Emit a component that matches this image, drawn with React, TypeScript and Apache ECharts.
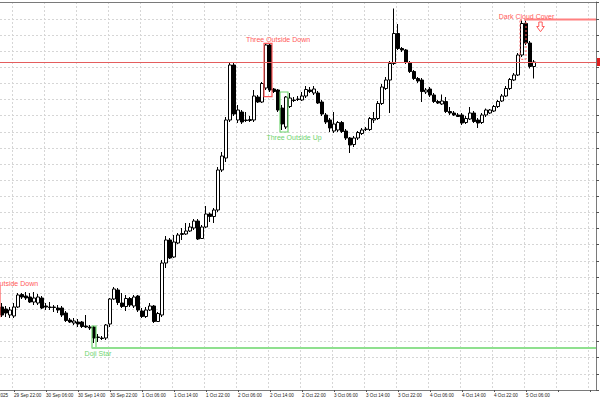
import React, { useEffect, useRef } from "react";
import * as echarts from "echarts";

// ---- time axis (hourly candles) ----
const START_UTC = Date.UTC(2025, 8, 29, 19); // first candle: 29 Sep 19:00
const TOTAL_SLOTS = 149; // candles + empty space on the right
const MONTHS = ["Jan", "Feb", "Mar", "Apr", "May", "Jun", "Jul", "Aug", "Sep", "Oct", "Nov", "Dec"];
const FIRST_TICK_SLOT = 3;
const TICK_STEP = 8;
const tickLabels = [
  "29 Sep 22:00", "30 Sep 06:00", "30 Sep 14:00", "30 Sep 22:00",
  "1 Oct 06:00", "1 Oct 14:00", "1 Oct 22:00", "2 Oct 06:00", "2 Oct 14:00",
  "2 Oct 22:00", "3 Oct 06:00", "3 Oct 14:00", "3 Oct 22:00", "4 Oct 06:00",
  "4 Oct 14:00", "4 Oct 22:00", "5 Oct 06:00",
];
const leadingDateLabel = "29 Sep 2025";

// ---- OHLC (price units) ----
const open = [
  83, 81, 75, 74, 83, 95.5, 94, 93, 88, 87, 92, 84, 83, 83, 82, 82, 77, 70, 67, 68,
  68, 64, 63, 63, 53, 52, 52, 66, 91, 100, 87, 83.5, 91.5, 84, 94, 79, 73.5, 80, 84, 68.5,
  75, 127, 150, 133, 147, 155.5, 156, 159, 162, 169, 151.5, 163, 176, 173.5, 180, 220, 232, 270, 325, 270,
  278, 270, 269.5, 270, 293, 288, 302, 345, 301, 300, 282, 263, 283.5, 290, 290.5, 290, 294, 300, 297, 297,
  288, 275, 270, 259, 260, 267.5, 259, 252, 245.5, 252, 256.5, 260.5, 260.5, 270, 271.5, 286.5, 301.5, 310, 326.5, 356.5,
  341.5, 340, 327, 318.5, 311.5, 310, 298, 301, 295, 288.5, 286, 288.5, 278.5, 277, 275, 275, 267.5, 271, 277, 270,
  267.5, 275, 277, 279, 283.5, 289, 294, 301.5, 310, 315, 335, 366.5, 347, 323.5,
];
const close = [
  75, 77, 80, 83, 95, 93, 92, 88, 92, 93, 82, 83, 82.5, 82.5, 80, 75, 69.5, 68, 69, 66,
  63.5, 63, 62, 52, 52.5, 51.5, 65, 91, 101, 87.5, 83.5, 91.5, 85, 93, 80, 73.5, 80, 84, 68.5, 76.5,
  127, 150, 132, 148, 155, 156.5, 159, 163, 169, 151, 163, 176, 173.5, 180, 220, 234, 270, 325, 276, 280,
  268, 269.5, 270.5, 294, 288, 306.5, 345, 300, 298.5, 280, 266, 293, 292, 289.5, 291, 294, 300.5, 298.5, 301, 287,
  276, 268, 262, 266, 267.5, 258.5, 252, 245, 252, 257.5, 260, 261, 271.5, 271.5, 286.5, 303, 310, 326.5, 356.5, 341.5,
  340, 327.5, 318.5, 311.5, 309, 298.5, 300, 295, 288.5, 287, 289, 278.5, 277, 275, 273.5, 267, 271.5, 277, 268.5, 267,
  275, 280, 280, 283.5, 288.5, 294, 301.5, 310.5, 315, 335, 366.5, 347, 323.5, 328,
];
const low = [
  73, 73, 72, 72, 82, 91, 90, 87, 85, 85, 81, 80, 80, 78, 77, 73, 68, 67, 65, 63,
  62, 62, 60, 47, 48, 50, 50, 63, 90, 85, 82, 79, 83, 82, 78, 72, 72, 79, 67, 68,
  73, 122, 131, 132, 146, 150, 155, 158, 160, 150, 151, 162, 168, 167, 178, 218, 228, 268, 274, 267,
  266, 268, 268, 268, 287, 287, 300, 298, 297, 278, 260, 261, 282, 288, 289, 289, 292, 297, 295, 286,
  274, 266, 258, 257, 258, 257, 250, 237, 243, 250, 255, 259, 259, 267, 270, 285, 300, 277, 325, 340,
  338, 326, 317, 310, 307, 288, 296, 293, 287, 286, 285, 277, 275, 274, 273, 265, 266, 270, 267, 262,
  266, 273, 276, 278, 282, 288, 293, 300, 309, 314, 333, 345, 321.5, 311.5,
];
const high = [
  87, 84, 83, 87, 97, 97, 98, 97, 98, 96, 94, 87, 88, 85, 85, 84, 79, 72, 72, 71,
  69, 75, 65, 64, 56, 54, 66, 92, 103, 102, 97, 95, 93, 95, 95, 82, 83, 87, 85, 78,
  130, 154, 152, 155, 157, 162, 167, 167, 171, 171, 165, 184, 177.5, 182, 223, 238, 273, 327, 327, 285,
  280, 278, 274, 300, 295, 308, 346.5, 346.5, 302, 301, 285, 294, 297, 293, 294, 298, 304, 303, 304, 299,
  290, 277, 272, 278, 269, 269, 261, 253, 254, 259, 262, 263, 273, 278, 289, 306, 313, 329, 381.5, 366,
  343, 341, 329, 320, 313, 312, 302, 303, 297, 290, 295.5, 293, 283, 279, 277, 277, 274, 283, 279, 272,
  277, 281.5, 281, 285, 290, 296, 304, 312, 317, 337, 369.5, 369.5, 349, 330,
];

// ---- y scale ----
const Y_MIN = 0;
const Y_MAX = 388;
const Y_STEP = 16.14;

// ---- pattern annotations (candle index range, price range) ----
type Pattern = {
  name: string; kind: "bear" | "bull"; from: number; to: number;
  top: number; bottom: number; labelPos: "above" | "below";
};
const patterns: Pattern[] = [
  { name: "Three Outside Down", kind: "bear", from: -2, to: -1, top: 103.3, bottom: 73.3, labelPos: "above" },
  { name: "Doji Star", kind: "bull", from: 23, to: 23, top: 64, bottom: 42, labelPos: "below" },
  { name: "Three Outside Down", kind: "bear", from: 66, to: 67, top: 346.7, bottom: 293.3, labelPos: "above" },
  { name: "Three Outside Up", kind: "bull", from: 70, to: 71, top: 298, bottom: 258, labelPos: "below" },
];
const darkCloud = { name: "Dark Cloud Cover", from: 130, to: 131, top: 370, bottom: 330.7, level: 370.5 };
const dojiLevel = { from: 23, value: 42 };

const RED = "#ff5a5a";
const GREEN = "#6fd46f";
const FONT = '"Liberation Sans", Arial, sans-serif';

function slotLabel(i: number): string {
  const d = new Date(START_UTC + i * 3600000);
  const hh = String(d.getUTCHours()).padStart(2, "0");
  return `${d.getUTCDate()} ${MONTHS[d.getUTCMonth()]} ${hh}:00`;
}
const categories = Array.from({ length: TOTAL_SLOTS }, (_, i) => slotLabel(i));
const isTickSlot = (i: number) => i >= FIRST_TICK_SLOT && (i - FIRST_TICK_SLOT) % TICK_STEP === 0;
const isLabelSlot = (i: number) => isTickSlot(i) && (i - FIRST_TICK_SLOT) / TICK_STEP < tickLabels.length;

function buildGraphics(chart: any) {
  const c0 = chart.convertToPixel({ xAxisIndex: 0 }, 0) as number;
  const c1 = chart.convertToPixel({ xAxisIndex: 0 }, 1) as number;
  const pitch = c1 - c0;
  const xAt = (i: number) => c0 + pitch * i;
  const yAt = (v: number) => chart.convertToPixel({ yAxisIndex: 0 }, v) as number;
  const xRight = chart.getWidth() - 4;
  const half = pitch / 2;
  const els: any[] = [];

  // top border
  els.push({ type: "line", shape: { x1: 0, y1: yAt(Y_MAX) + 0.5, x2: xRight, y2: yAt(Y_MAX) + 0.5 }, style: { stroke: "#7a7a7a", lineWidth: 1 }, z: 5 });

  for (const p of patterns) {
    const col = p.kind === "bear" ? RED : GREEN;
    const x1 = xAt(p.from) - half;
    const x2 = xAt(p.to) + half;
    const y1 = yAt(p.top);
    const y2 = yAt(p.bottom);
    els.push({ type: "rect", shape: { x: x1, y: y1, width: x2 - x1, height: y2 - y1 }, style: { stroke: col, fill: "none", lineWidth: 1.2 }, z: 4 });
    const tx = p.name === "Doji Star" ? xAt(p.from) + 4 : xAt(p.from) + 12;
    const ty = p.labelPos === "above" ? y1 - 3.5 : y2 + 5;
    els.push({ type: "text", x: tx, y: ty, style: { text: p.name, fill: col, font: `7px ${FONT}`, align: "center", verticalAlign: "middle" }, z: 6 });
  }

  // doji star support line
  els.push({ type: "line", shape: { x1: xAt(dojiLevel.from) - half, y1: yAt(dojiLevel.value), x2: xRight, y2: yAt(dojiLevel.value) }, style: { stroke: "#8fe08f", lineWidth: 2 }, z: 4 });

  // dark cloud cover
  {
    const x1 = xAt(darkCloud.from) - half;
    const x2 = xAt(darkCloud.from) + half + 2;
    const y1 = yAt(darkCloud.top);
    const y2 = yAt(darkCloud.bottom);
    els.push({ type: "rect", shape: { x: x1, y: y1, width: x2 - x1, height: y2 - y1 }, style: { stroke: RED, fill: "none", lineWidth: 1, lineDash: [2, 2] }, z: 4 });
    const ly = yAt(darkCloud.level);
    els.push({ type: "line", shape: { x1: xAt(darkCloud.to) - 1, y1: ly, x2: xRight, y2: ly }, style: { stroke: "#ff8080", lineWidth: 2 }, z: 4 });
    els.push({ type: "text", x: xAt(darkCloud.to) + 0.5, y: ly - 3.5, style: { text: darkCloud.name, fill: RED, font: `7px ${FONT}`, align: "center", verticalAlign: "middle" }, z: 6 });
    const cx = xAt(darkCloud.to) + 14.5;
    const t = ly + 2.5;
    els.push({
      type: "polygon",
      shape: { points: [[cx - 1.7, t], [cx + 1.7, t], [cx + 1.7, t + 4.5], [cx + 3.8, t + 4.5], [cx, t + 9.7], [cx - 3.8, t + 4.5], [cx - 1.7, t + 4.5]] },
      style: { stroke: RED, fill: "#ffffff", lineWidth: 1 }, z: 6,
    });
  }

  // price tag on the right axis
  const lastClose = close[close.length - 1];
  els.push({ type: "rect", shape: { x: xRight + 1, y: yAt(lastClose) - 4, width: 10, height: 8 }, style: { fill: "#e02020" }, z: 6 });

  // leading date label (cut at left edge)
  els.push({ type: "text", x: xAt(FIRST_TICK_SLOT - TICK_STEP), y: yAt(Y_MIN) + 3, style: { text: leadingDateLabel, fill: "#222", font: `4.6px ${FONT}`, align: "left", verticalAlign: "top" }, z: 6 });

  return els;
}

export default function App() {
  const ref = useRef<HTMLDivElement>(null);
  useEffect(() => {
    if (!ref.current) return;
    const chart = echarts.init(ref.current, null, { renderer: "svg" });
    const candles = open.map((o, i) => [o, close[i], low[i], high[i]]);
    const gridLine = { show: true, lineStyle: { color: "#d6d6d6", type: [2, 2] as any, width: 1 } };
    chart.setOption({
      animation: false,
      backgroundColor: "#ffffff",
      grid: { left: 0, right: 4, top: 2, bottom: 10, outerBoundsMode: "none", containLabel: false },
      xAxis: {
        type: "category",
        data: categories,
        boundaryGap: true,
        axisLine: { show: true, lineStyle: { color: "#7a7a7a", width: 1 } },
        axisTick: { show: true, alignWithLabel: true, length: 2, interval: (i: number) => isTickSlot(i), lineStyle: { color: "#555" } },
        axisLabel: {
          show: true,
          interval: (i: number) => isLabelSlot(i),
          formatter: (_: string, i: number) => tickLabels[(i - FIRST_TICK_SLOT) / TICK_STEP] ?? "",
          align: "left",
          margin: 3,
          fontSize: 4.6,
          fontFamily: FONT,
          color: "#222",
        },
        splitLine: { ...gridLine, interval: (i: number) => isTickSlot(i) },
      },
      yAxis: {
        type: "value",
        position: "right",
        min: Y_MIN,
        max: Y_MAX,
        interval: Y_STEP,
        axisLine: { show: true, onZero: false, lineStyle: { color: "#7a7a7a", width: 1 } },
        axisTick: { show: true, inside: false, length: 3, lineStyle: { color: "#555" } },
        axisLabel: { show: false },
        splitLine: gridLine,
      },
      series: [
        {
          type: "candlestick",
          data: candles,
          barWidth: 3,
          itemStyle: {
            color: "#ffffff",
            color0: "#000000",
            borderColor: "#000000",
            borderColor0: "#000000",
            borderColorDoji: "#000000",
            borderWidth: 1,
          },
          markLine: {
            silent: true,
            symbol: ["none", "none"],
            label: { show: false },
            lineStyle: { color: "#e35d5d", width: 1, type: "solid" },
            data: [{ yAxis: close[close.length - 1] }],
          },
        },
      ],
    });
    chart.setOption({ graphic: buildGraphics(chart) });
    return () => chart.dispose();
  }, []);
  return <div ref={ref} style={{ position: "fixed", left: 0, top: 0, width: 600, height: 400 }} />;
}
